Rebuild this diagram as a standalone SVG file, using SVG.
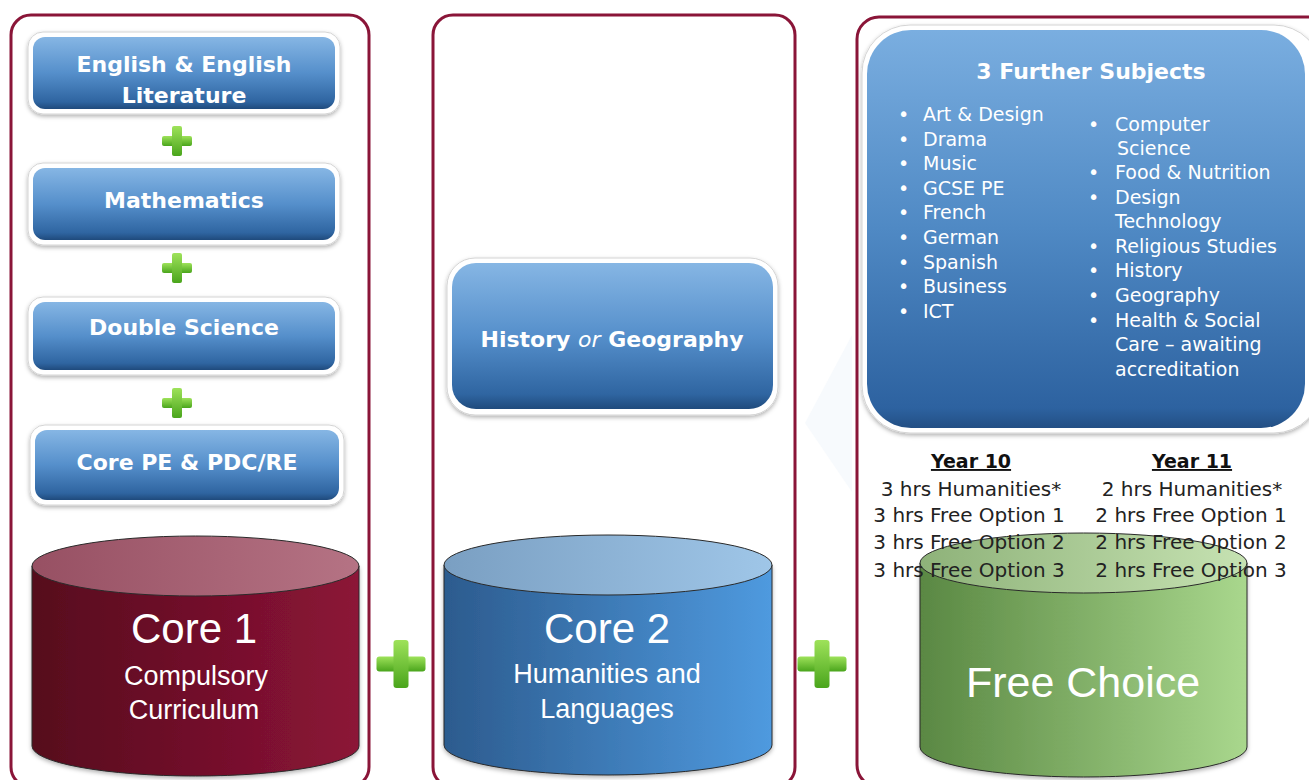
<svg xmlns="http://www.w3.org/2000/svg" width="1309" height="780" viewBox="0 0 1309 780">
<defs>
<linearGradient id="gBox" x1="0" y1="0" x2="0" y2="1">
<stop offset="0" stop-color="#86b6e4"/><stop offset="0.5" stop-color="#558fcb"/><stop offset="0.9" stop-color="#2f65a1"/><stop offset="1" stop-color="#1f4a7c"/>
</linearGradient>
<linearGradient id="gBig" x1="0" y1="0" x2="0" y2="1">
<stop offset="0" stop-color="#7aaee0"/><stop offset="0.5" stop-color="#4f89c4"/><stop offset="0.95" stop-color="#2d62a0"/><stop offset="1" stop-color="#234f84"/>
</linearGradient>
<linearGradient id="gPlus" x1="0" y1="0" x2="0" y2="1">
<stop offset="0" stop-color="#9ee25a"/><stop offset="1" stop-color="#4aa51c"/>
</linearGradient>
<linearGradient id="c1b" x1="0" y1="0" x2="1" y2="0"><stop offset="0" stop-color="#560a1d"/><stop offset="1" stop-color="#8c1437"/></linearGradient>
<linearGradient id="c1t" x1="0" y1="0" x2="1" y2="0"><stop offset="0" stop-color="#975063"/><stop offset="1" stop-color="#b57384"/></linearGradient>
<linearGradient id="c2b" x1="0" y1="0" x2="1" y2="0"><stop offset="0" stop-color="#2c5b8e"/><stop offset="1" stop-color="#4f9adf"/></linearGradient>
<linearGradient id="c2t" x1="0" y1="0" x2="1" y2="0"><stop offset="0" stop-color="#7a9fc2"/><stop offset="1" stop-color="#9fc6e8"/></linearGradient>
<linearGradient id="c3b" x1="0" y1="0" x2="1" y2="0"><stop offset="0" stop-color="#5a8843"/><stop offset="1" stop-color="#a9d78d"/></linearGradient>
<linearGradient id="c3t" x1="0" y1="0" x2="1" y2="0"><stop offset="0" stop-color="#8eb279"/><stop offset="1" stop-color="#c6e2b2"/></linearGradient>
<filter id="sh" x="-10%" y="-10%" width="120%" height="130%">
<feDropShadow dx="0" dy="2" stdDeviation="2" flood-color="#000" flood-opacity="0.3"/>
</filter>
<g id="plusS"><rect x="-15" y="-5" width="30" height="10" rx="2" fill="url(#gPlus)"/><rect x="-5" y="-15" width="10" height="30" rx="2" fill="url(#gPlus)"/></g>
<g id="plusB"><rect x="-24.5" y="-7.5" width="49" height="15" rx="3" fill="url(#gPlus)"/><rect x="-7.5" y="-24" width="15" height="48" rx="3" fill="url(#gPlus)"/></g>
</defs>
<style>
.panel{fill:none;stroke:#8a1538;stroke-width:3}
.rim{fill:#fff;stroke:#d4d4d4;stroke-width:1;filter:url(#sh)}
.box{fill:url(#gBox)}
.bl{font-family:"DejaVu Sans",sans-serif;font-weight:bold;font-size:22px;fill:#fff;text-anchor:middle}
.li{font-family:"DejaVu Sans",sans-serif;font-size:19px;fill:#fff}
.yr{font-family:"DejaVu Sans",sans-serif;font-size:20px;fill:#222;text-anchor:middle}
.yh{font-family:"DejaVu Sans",sans-serif;font-size:19px;font-weight:bold;fill:#111;text-anchor:middle;text-decoration:underline}
.cy{font-family:"Liberation Sans",Arial,sans-serif;fill:#fff;text-anchor:middle}
.cs{stroke:#2a2a2a;stroke-width:1}
</style>
<rect width="1309" height="780" fill="#fff"/>
<polygon points="852,335 805,423 852,492" fill="#f7fafd"/>

<g id="panel1"><rect class="panel" x="11" y="15" width="358" height="772" rx="20"/></g>
<g id="panel2"><rect class="panel" x="433" y="15" width="362" height="772" rx="20"/></g>
<g id="panel3"><rect class="panel" x="857" y="17" width="480" height="770" rx="22"/></g>

<g id="english">
<rect class="rim" x="28" y="32" width="312" height="82" rx="15"/>
<rect class="box" x="33" y="37" width="302" height="72" rx="12"/>
<text class="bl" x="184" y="72">English &amp; English</text>
<text class="bl" x="184" y="103">Literature</text>
</g>
<g id="mathematics">
<rect class="rim" x="28" y="163" width="312" height="82" rx="15"/>
<rect class="box" x="33" y="168" width="302" height="72" rx="12"/>
<text class="bl" x="184" y="208">Mathematics</text>
</g>
<g id="science">
<rect class="rim" x="28" y="297" width="312" height="78" rx="15"/>
<rect class="box" x="33" y="302" width="302" height="68" rx="12"/>
<text class="bl" x="184" y="335">Double Science</text>
</g>
<g id="corepe">
<rect class="rim" x="30" y="425" width="314" height="80" rx="15"/>
<rect class="box" x="35" y="430" width="304" height="70" rx="12"/>
<text class="bl" x="187" y="470">Core PE &amp; PDC/RE</text>
</g>

<g id="core1">
<path d="M32,566 L32,746 A163.5,30 0 0 0 359,746 L359,566 Z" fill="url(#c1b)" class="cs" filter="url(#sh)"/>
<ellipse cx="195.5" cy="566" rx="163.5" ry="30" fill="url(#c1t)" class="cs"/>
<text class="cy" x="194" y="643" font-size="42">Core 1</text>
<text class="cy" x="196" y="685" font-size="27">Compulsory</text>
<text class="cy" x="194" y="719" font-size="27">Curriculum</text>
</g>

<g id="histgeo">
<rect class="rim" x="447" y="258" width="331" height="157" rx="28"/>
<rect class="box" x="452" y="263" width="321" height="146" rx="24"/>
<text class="bl" x="612" y="347">History <tspan font-style="italic" font-weight="normal">or</tspan> Geography</text>
</g>

<g id="core2">
<path d="M444,565 L444,745 A164,30 0 0 0 772,745 L772,565 Z" fill="url(#c2b)" class="cs" filter="url(#sh)"/>
<ellipse cx="608" cy="565" rx="164" ry="30" fill="url(#c2t)" class="cs"/>
<text class="cy" x="607" y="643" font-size="42">Core 2</text>
<text class="cy" x="607" y="683" font-size="27">Humanities and</text>
<text class="cy" x="607" y="718" font-size="27">Languages</text>
</g>

<g id="further">
<rect class="rim" x="862" y="25" width="460" height="408" rx="48"/>
<rect x="867" y="30" width="438" height="398" rx="44" fill="url(#gBig)"/>
<text class="bl" x="1091" y="79" font-size="21">3 Further Subjects</text>
<g class="li">
<text x="898" y="121">•</text><text x="923" y="121">Art &amp; Design</text>
<text x="898" y="146">•</text><text x="923" y="146">Drama</text>
<text x="898" y="170">•</text><text x="923" y="170">Music</text>
<text x="898" y="195">•</text><text x="923" y="195">GCSE PE</text>
<text x="898" y="219">•</text><text x="923" y="219">French</text>
<text x="898" y="244">•</text><text x="923" y="244">German</text>
<text x="898" y="269">•</text><text x="923" y="269">Spanish</text>
<text x="898" y="293">•</text><text x="923" y="293">Business</text>
<text x="898" y="318">•</text><text x="923" y="318">ICT</text>
<text x="1088" y="131">•</text><text x="1115" y="131">Computer</text>
<text x="1117" y="155">Science</text>
<text x="1088" y="179">•</text><text x="1115" y="179">Food &amp; Nutrition</text>
<text x="1088" y="204">•</text><text x="1115" y="204">Design</text>
<text x="1115" y="228">Technology</text>
<text x="1088" y="253">•</text><text x="1115" y="253">Religious Studies</text>
<text x="1088" y="277">•</text><text x="1115" y="277">History</text>
<text x="1088" y="302">•</text><text x="1115" y="302">Geography</text>
<text x="1088" y="327">•</text><text x="1115" y="327">Health &amp; Social</text>
<text x="1115" y="351">Care – awaiting</text>
<text x="1115" y="376">accreditation</text>
</g>
</g>

<g id="freechoice">
<path d="M920,563 L920,747 A163.5,30 0 0 0 1247,747 L1247,563 Z" fill="url(#c3b)" class="cs" filter="url(#sh)"/>
<ellipse cx="1083.5" cy="563" rx="163.5" ry="30" fill="url(#c3t)" class="cs"/>
<text class="cy" x="1083" y="697" font-size="43" fill="#f0f7ea">Free Choice</text>
</g>

<g id="hours">
<text class="yh" x="971" y="468">Year 10</text>
<text class="yr" x="971" y="496">3 hrs Humanities*</text>
<text class="yr" x="969" y="522">3 hrs Free Option 1</text>
<text class="yr" x="969" y="549">3 hrs Free Option 2</text>
<text class="yr" x="969" y="577">3 hrs Free Option 3</text>
<text class="yh" x="1192" y="468">Year 11</text>
<text class="yr" x="1192" y="496">2 hrs Humanities*</text>
<text class="yr" x="1191" y="522">2 hrs Free Option 1</text>
<text class="yr" x="1191" y="549">2 hrs Free Option 2</text>
<text class="yr" x="1191" y="577">2 hrs Free Option 3</text>
</g>

<g id="connectors">
<use href="#plusS" x="177" y="141"/>
<use href="#plusS" x="177" y="268"/>
<use href="#plusS" x="177" y="403"/>
<use href="#plusB" x="401" y="664"/>
<use href="#plusB" x="822" y="664"/>
</g>
</svg>
